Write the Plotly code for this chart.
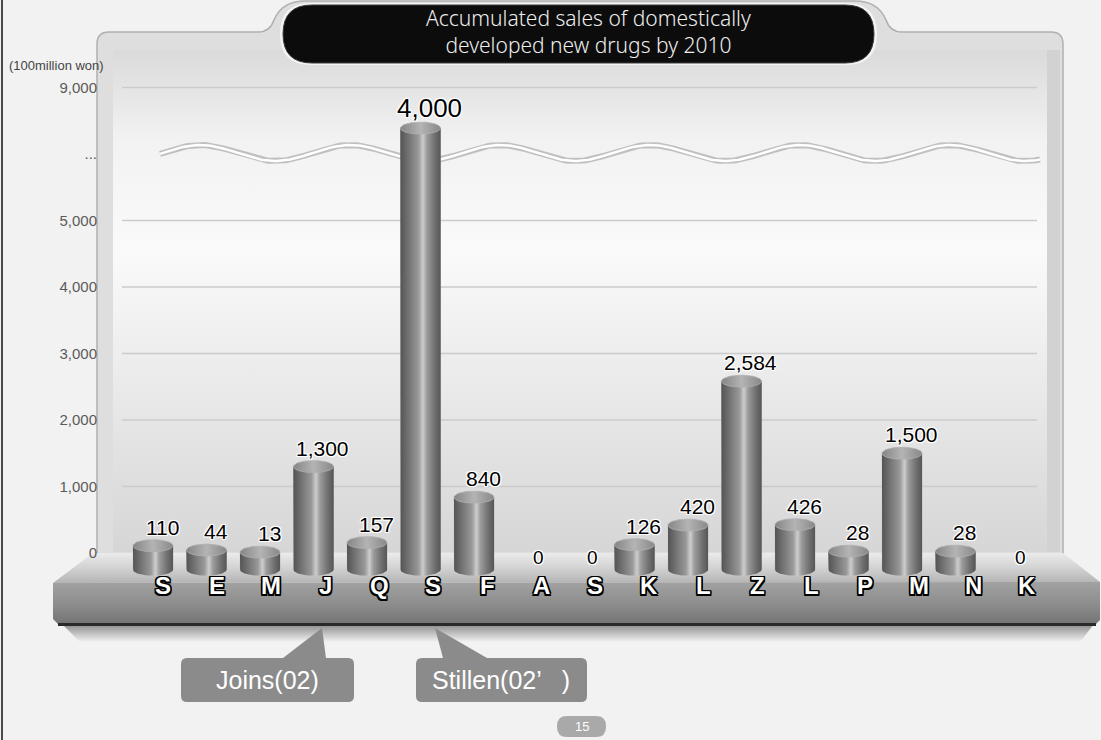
import numpy as np
import plotly.graph_objects as go

# ---------------- data ----------------
categories = ["S", "E", "M", "J", "Q", "S", "F", "A", "S", "K", "L", "Z", "L", "P", "M", "N", "K"]
sales = [110, 44, 13, 1300, 157, 4000, 840, 0, 0, 126, 420, 2584, 426, 28, 1500, 28, 0]
y_tick_vals = [0, 1000, 2000, 3000, 4000, 5000, 6000, 7000]
y_tick_text = ["0", "1,000", "2,000", "3,000", "4,000", "5,000", "...", "9,000"]
callouts = [(3, "Joins(02)"), (5, "Stillen(02’   )")]
title_text = "Accumulated sales of domestically<br>developed new drugs by 2010"
unit_text = "(100million won)"
page_no = "15"

# the tall bar runs through the axis break (drawn truncated just above the break)
broken_index = 5
BREAK_TOP = 6390
BASE = -250          # bars stand on the front of the platform

W, H = 1101, 740
X0PX, XSTEP = 153.0, 53.5
Y0PX, YSTEP = 553.0, 66.5 / 1000.0

def dx(px):
    return (px - X0PX) / XSTEP

def dy(py):
    return (Y0PX - py) / YSTEP

def P(x, y):
    return f"{x / W:.5f},{1 - y / H:.5f}"

def rrect(x0, y0, x1, y1, r):
    return (f"M{P(x0 + r, y0)} L{P(x1 - r, y0)} Q{P(x1, y0)} {P(x1, y0 + r)} "
            f"L{P(x1, y1 - r)} Q{P(x1, y1)} {P(x1 - r, y1)} L{P(x0 + r, y1)} "
            f"Q{P(x0, y1)} {P(x0, y1 - r)} L{P(x0, y0 + r)} Q{P(x0, y0)} {P(x0 + r, y0)} Z")

xrange_ = [dx(0), dx(W)]
yrange_ = [dy(H), dy(0)]

fig = go.Figure()

def poly(xs_px, ys_px, grad=None, color=None, axes=("x", "y")):
    tr = go.Scatter(x=[dx(v) for v in xs_px], y=[dy(v) for v in ys_px], mode="lines",
                    fill="toself", line=dict(width=0), hoverinfo="skip",
                    fillcolor=color or "rgba(0,0,0,0)", xaxis=axes[0], yaxis=axes[1])
    if grad:
        tr.fillgradient = grad
    fig.add_trace(tr)

# ---------- background decorations (base axes) ----------
poly([113, 1047, 1047, 113], [50, 50, 552, 552],
     grad=dict(type="vertical", colorscale=[[0, "#d6d6d6"], [0.3, "#e8e8e8"], [0.6, "#fafafa"],
                                             [0.82, "#f2f2f2"], [1, "#dadada"]]))

for tv, tt in zip(y_tick_vals, y_tick_text):
    if tv > 0 and tt != "...":
        fig.add_trace(go.Scatter(x=[dx(122), dx(1037)], y=[tv, tv], mode="lines",
                                 line=dict(color="#cbcbcb", width=1.3), hoverinfo="skip"))

# axis-break wave
wx = np.linspace(160, 1040, 400)
wy = 153 - 8 * np.cos(2 * np.pi * (wx - 350) / 150)
fig.add_trace(go.Scatter(x=dx(wx), y=dy(wy), mode="lines",
                         line=dict(color="#c0c0c0", width=6), hoverinfo="skip"))
fig.add_trace(go.Scatter(x=dx(wx), y=dy(wy), mode="lines",
                         line=dict(color="#ffffff", width=2.5), hoverinfo="skip"))

# platform top surface
poly([93, 1063, 1100, 53], [553, 553, 582, 583],
     grad=dict(type="vertical", colorscale=[[0, "#b4b4b4"], [0.5, "#d2d2d2"], [1, "#ebebeb"]]))
# shadow under platform
poly([62, 1094, 1080, 80], [624, 624, 642, 642],
     grad=dict(type="vertical", colorscale=[[0, "#f2f2f2"], [1, "#8a8a8a"]]))
# platform front face
poly([53, 1100, 1100, 1096, 58, 53], [583, 582, 620, 624, 624, 619],
     grad=dict(type="vertical", colorscale=[[0, "#747474"], [0.45, "#8c8c8c"], [1, "#a2a2a2"]]))
fig.add_trace(go.Scatter(x=[dx(58), dx(1096)], y=[dy(624.5), dy(624.5)], mode="lines",
                         line=dict(color="#2a2a2a", width=3), hoverinfo="skip"))

# ---------- bars (overlay axes) ----------
xs = list(range(len(categories)))
drawn = [BREAK_TOP if i == broken_index else v for i, v in enumerate(sales)]
bar_base = [BASE if v > 0 else 0 for v in sales]
fig.add_trace(go.Bar(x=xs, y=[d - b if v > 0 else 0 for d, b, v in zip(drawn, bar_base, sales)],
                     base=bar_base, width=0.75, marker=dict(color="#7a7a7a", line=dict(width=0)),
                     customdata=sales, hovertemplate="%{customdata:,}<extra></extra>",
                     xaxis="x2", yaxis="y2"))

hw = 0.375
eh = 6 * 1000 / 66.5  # ellipse half-height in value units
tt_full = np.linspace(0, 2 * np.pi, 60)
arc = np.linspace(np.pi, 2 * np.pi, 30)
cyl_scale = [[0, "#545454"], [0.2, "#737373"], [0.45, "#999999"], [0.56, "#cdcdcd"],
             [0.66, "#9c9c9c"], [0.85, "#717171"], [1, "#565656"]]
cap_scale = [[0, "#858585"], [0.5, "#b4b4b4"], [1, "#888888"]]
for i, (v, d) in enumerate(zip(sales, drawn)):
    if v <= 0:
        continue
    arc_x = list(i + hw * np.cos(arc))
    arc_y = list(BASE + eh * np.sin(arc))
    cx = [i - hw] + arc_x + [i + hw, i + hw, i - hw]
    cy = [d] + arc_y + [BASE, d, d]
    fig.add_trace(go.Scatter(x=cx, y=cy, mode="lines", fill="toself", line=dict(width=0),
                             fillgradient=dict(type="horizontal", colorscale=cyl_scale),
                             hoverinfo="skip", xaxis="x2", yaxis="y2"))
    fig.add_trace(go.Scatter(x=list(i + hw * np.cos(tt_full)), y=list(d + eh * np.sin(tt_full)),
                             mode="lines", fill="toself", line=dict(width=0.8, color="#b0b0b0"),
                             fillgradient=dict(type="horizontal", colorscale=cap_scale),
                             hoverinfo="skip", xaxis="x2", yaxis="y2"))

# ---------- annotations ----------
halo = ("1px 1px 0 #fff, -1px -1px 0 #fff, 1px -1px 0 #fff, -1px 1px 0 #fff, "
        "0 0 3px #fff")
outline = ("1.5px 1.5px 0 #000, -1.5px -1.5px 0 #000, 1.5px -1.5px 0 #000, -1.5px 1.5px 0 #000, "
           "0 1.5px 0 #000, 0 -1.5px 0 #000, 1.5px 0 0 #000, -1.5px 0 0 #000")
ann = []
for i, (v, d) in enumerate(zip(sales, drawn)):
    big = i == broken_index
    if v > 0:
        ann.append(dict(x=i, y=d, xref="x2", yref="y2", text=f"{v:,}", showarrow=False,
                        xanchor="center", yanchor="bottom", yshift=3 if big else 5, xshift=9,
                        font=dict(family="Liberation Sans, Arial", size=26 if big else 21,
                                  color="#000", shadow=halo)))
    else:
        ann.append(dict(x=i, y=BASE, xref="x2", yref="y2", text=f"{v:,}", showarrow=False,
                        xanchor="center", yanchor="middle", yshift=12, xshift=11,
                        font=dict(family="Liberation Sans, Arial", size=19, color="#000", shadow=halo)))
    ann.append(dict(x=i, y=dy(585), xref="x2", yref="y2", text=categories[i], showarrow=False,
                    xanchor="center", yanchor="middle", xshift=10 + 0.5 * i,
                    font=dict(family="Liberation Sans, Arial", size=24, color="#fff",
                              weight=700, shadow=outline)))

ann.append(dict(x=7 / W, y=1 - 66 / H, xref="paper", yref="paper", text=unit_text, showarrow=False,
                xanchor="left", yanchor="middle",
                font=dict(family="Liberation Sans, Arial", size=13, color="#444")))
ann.append(dict(x=588 / W, y=1 - 31 / H, xref="paper", yref="paper", text=title_text,
                showarrow=False, xanchor="center", yanchor="middle",
                font=dict(family="Noto Sans", size=21, color="#eeeeee", weight=300)))
ann.append(dict(x=581.5 / W, y=1 - 726.5 / H, xref="paper", yref="paper", text=page_no, showarrow=False,
                xanchor="center", yanchor="middle",
                font=dict(family="Liberation Sans, Arial", size=13, color="#fff")))

callout_centers = {3: 267, 5: 501}
for idx, txt in callouts:
    ann.append(dict(x=callout_centers[idx] / W, y=1 - 680 / H, xref="paper", yref="paper", text=txt,
                    showarrow=False, xanchor="center", yanchor="middle",
                    font=dict(family="Liberation Sans, Arial", size=25, color="#fff")))

# ---------- shapes ----------
shapes = []
shapes.append(dict(type="line", xref="paper", yref="paper", x0=2 / W, x1=2 / W, y0=0, y1=1,
                   line=dict(color="#4a4a4a", width=2), layer="below"))
panel = (f"M{P(97, 560)} L{P(97, 44)} Q{P(97, 32)} {P(109, 32)} L{P(258, 32)} "
         f"Q{P(270, 32)} {P(274, 20)} Q{P(282, 1)} {P(305, 1)} L{P(855, 1)} "
         f"Q{P(878, 1)} {P(886, 20)} Q{P(890, 32)} {P(902, 32)} L{P(1051, 32)} "
         f"Q{P(1063, 32)} {P(1063, 44)} L{P(1063, 560)} Z")
shapes.append(dict(type="path", path=panel, xref="paper", yref="paper",
                   fillcolor="#dedede", line=dict(color="#b0b0b0", width=1.5), layer="below"))
shapes.append(dict(type="rect", xref="paper", yref="paper", x0=1047 / W, x1=1060 / W,
                   y0=1 - 552 / H, y1=1 - 50 / H, fillcolor="#d2d2d2", line=dict(width=0), layer="below"))
# title pill
shapes.append(dict(type="path", path=rrect(280, 3, 877, 65, 31), xref="paper", yref="paper",
                   fillcolor="#f4f4f4", line=dict(width=0), layer="above"))
shapes.append(dict(type="path", path=rrect(283, 5, 874, 63, 29), xref="paper", yref="paper",
                   fillcolor="#0c0c0c", line=dict(color="#3a3a3a", width=1), layer="above"))
# callouts
shapes.append(dict(type="path", xref="paper", yref="paper", layer="above",
                   path=(f"M{P(187, 658)} L{P(283, 658)} L{P(322, 628)} L{P(326, 658)} "
                         f"L{P(348, 658)} Q{P(354, 658)} {P(354, 664)} L{P(354, 696)} "
                         f"Q{P(354, 702)} {P(348, 702)} L{P(187, 702)} Q{P(181, 702)} {P(181, 696)} "
                         f"L{P(181, 664)} Q{P(181, 658)} {P(187, 658)} Z"),
                   fillcolor="#8b8b8b", line=dict(width=0)))
shapes.append(dict(type="path", xref="paper", yref="paper", layer="above",
                   path=(f"M{P(422, 658)} L{P(443, 658)} L{P(435, 628)} L{P(487, 658)} "
                         f"L{P(581, 658)} Q{P(587, 658)} {P(587, 664)} L{P(587, 696)} "
                         f"Q{P(587, 702)} {P(581, 702)} L{P(422, 702)} Q{P(416, 702)} {P(416, 696)} "
                         f"L{P(416, 664)} Q{P(416, 658)} {P(422, 658)} Z"),
                   fillcolor="#8b8b8b", line=dict(width=0)))
shapes.append(dict(type="path", path=rrect(557, 716, 606, 737, 10), xref="paper", yref="paper",
                   fillcolor="#a9a9a9", line=dict(width=0), layer="above"))

fig.update_layout(
    width=W, height=H, margin=dict(l=0, r=0, t=0, b=0),
    paper_bgcolor="#f2f2f2", plot_bgcolor="rgba(0,0,0,0)",
    showlegend=False, annotations=ann, shapes=shapes,
    xaxis=dict(range=xrange_, domain=[0, 1], visible=False, fixedrange=True),
    yaxis=dict(range=yrange_, domain=[0, 1], anchor="free", position=100 / W,
               tickmode="array", tickvals=y_tick_vals, ticktext=y_tick_text,
               showgrid=False, zeroline=False, showline=False, ticks="", ticklabelstandoff=3,
               tickfont=dict(family="Liberation Sans, Arial", size=15, color="#5a5a5a"),
               fixedrange=True),
    xaxis2=dict(range=xrange_, overlaying="x", visible=False, fixedrange=True),
    yaxis2=dict(range=yrange_, overlaying="y", visible=False, fixedrange=True),
)

fig.write_html("out.html", config={"displayModeBar": False},
               post_script="document.body.style.margin='0px';document.body.style.overflow='hidden';")
